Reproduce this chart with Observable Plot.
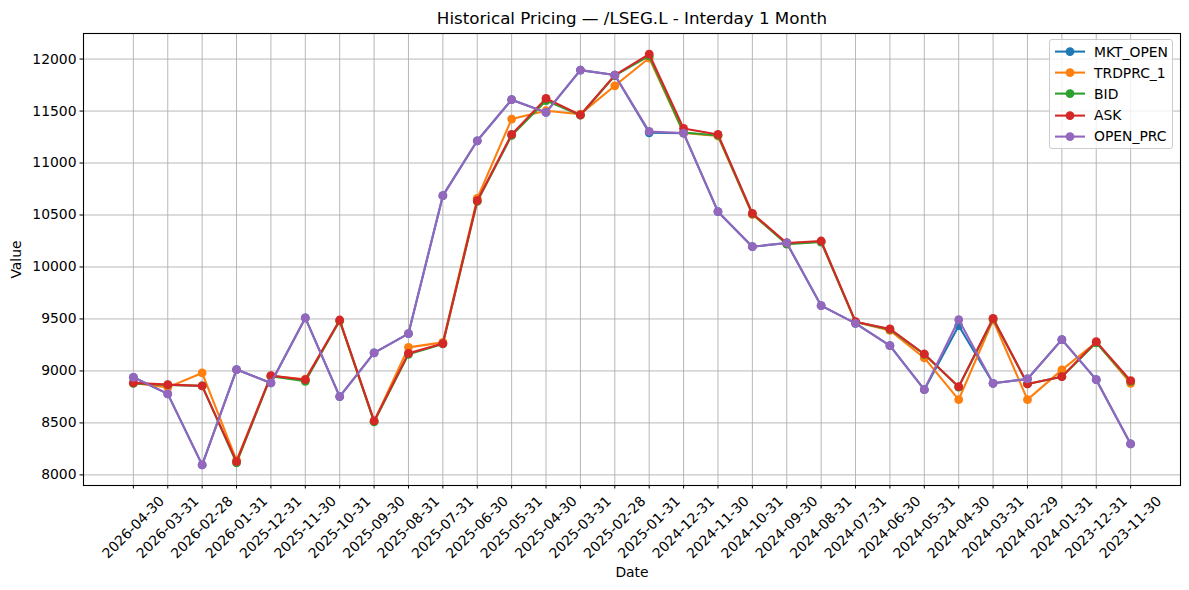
<!DOCTYPE html>
<html>
<head>
<meta charset="utf-8">
<script src="https://cdn.jsdelivr.net/npm/d3@7"></script>
<script src="https://cdn.jsdelivr.net/npm/@observablehq/plot@0.6"></script>
<style>
  html, body { margin: 0; padding: 0; background: white; }
  #wrap { position: relative; width: 1189px; height: 590px; font-family: "DejaVu Sans", sans-serif; }
  #legend { position: absolute; left: 1049px; top: 39px; width: 124px; height: 110px; box-sizing: border-box;
    border: 1px solid #cccccc; border-radius: 3px; background: rgba(255,255,255,0.8); padding-top: 1px; }
  .row { position: relative; height: 21.2px; }
  .row svg { position: absolute; left: 4px; top: 0; }
  .row span { position: absolute; left: 44px; top: 50%; transform: translateY(-50%); font-size: 13.9px; color: #000; white-space: nowrap; }
</style>
</head>
<body>
<div id="wrap"></div>
<script>
const title = "Historical Pricing — /LSEG.L - Interday 1 Month";
const xLabel = "Date";
const yLabel = "Value";

const dates = ["2026-04-30","2026-03-31","2026-02-28","2026-01-31","2025-12-31","2025-11-30","2025-10-31","2025-09-30","2025-08-31","2025-07-31","2025-06-30","2025-05-31","2025-04-30","2025-03-31","2025-02-28","2025-01-31","2024-12-31","2024-11-30","2024-10-31","2024-09-30","2024-08-31","2024-07-31","2024-06-30","2024-05-31","2024-04-30","2024-03-31","2024-02-29","2024-01-31","2023-12-31","2023-11-30"];

const seriesNames = ["MKT_OPEN", "TRDPRC_1", "BID", "ASK", "OPEN_PRC"];
const seriesColors = ["#1f77b4", "#ff7f0e", "#2ca02c", "#d62728", "#9467bd"];

const MKT_OPEN = [8939, 8779, 8096, 9013, 8885, 9510, 8753, 9173, 9359, 10686, 11214, 11609, 11487, 11894, 11846, 11291, 11288, 10532, 10195, 10231, 9628, 9458, 9243, 8820, 9435, 8881, 8923, 9301, 8916, 8298];
const TRDPRC_1 = [8885, 8842, 8981, 8140, 8950, 8920, 9480, 8515, 9227, 9275, 10660, 11423, 11503, 11470, 11743, 12010, 11290, 11260, 10505, 10225, 10245, 9470, 9390, 9125, 8724, 9490, 8724, 9010, 9275, 8881];
const BID      = [8880, 8865, 8856, 8115, 8950, 8900, 9485, 8510, 9160, 9260, 10630, 11265, 11600, 11460, 11840, 12030, 11294, 11265, 10510, 10220, 10240, 9470, 9400, 9160, 8845, 9500, 8875, 8945, 9270, 8900];
const ASK      = [8885, 8868, 8856, 8128, 8955, 8916, 9490, 8519, 9169, 9263, 10638, 11275, 11622, 11462, 11846, 12048, 11333, 11275, 10515, 10231, 10250, 9474, 9404, 9163, 8849, 9506, 8875, 8945, 9282, 8907];
const OPEN_PRC = [8939, 8779, 8096, 9013, 8885, 9510, 8753, 9173, 9359, 10686, 11214, 11609, 11487, 11894, 11846, 11304, 11288, 10532, 10195, 10231, 9628, 9458, 9243, 8820, 9493, 8881, 8923, 9301, 8916, 8298];

const yTicks = [8000, 8500, 9000, 9500, 10000, 10500, 11000, 11500, 12000];

const seriesValues = [MKT_OPEN, TRDPRC_1, BID, ASK, OPEN_PRC];

const seriesMarks = [];
seriesNames.forEach((name, si) => {
  const rows = dates.map((d, i) => ({date: d, value: seriesValues[si][i], series: name}));
  seriesMarks.push(Plot.line(rows, {x: "date", y: "value", stroke: seriesColors[si], strokeWidth: 2.1}));
  seriesMarks.push(Plot.dot(rows, {x: "date", y: "value", fill: seriesColors[si], r: 4.4, stroke: "none"}));
});

const chart = Plot.plot({
  width: 1189,
  height: 590,
  marginLeft: 83,
  marginRight: 9,
  marginTop: 33,
  marginBottom: 105,
  style: {fontFamily: "DejaVu Sans", fontSize: "13.9px", background: "white", color: "black"},
  x: {type: "point", domain: dates, padding: 1.45, round: false, label: null},
  y: {domain: [7898, 12246], label: null},
  marks: [
    Plot.gridX(dates, {stroke: "#b0b0b0", strokeOpacity: 1, strokeWidth: 0.9}),
    Plot.gridY(yTicks, {stroke: "#b0b0b0", strokeOpacity: 1, strokeWidth: 0.9}),
    ...seriesMarks,
    Plot.frame({stroke: "black", strokeWidth: 1.1}),
    Plot.axisX(dates, {tickSize: 3.5, tickFormat: () => "", label: null}),
    Plot.text(dates, {x: d => d, frameAnchor: "bottom", rotate: -45, textAnchor: "middle", lineAnchor: "middle", dy: 42, fontSize: 13.9}),
    Plot.axisY(yTicks, {tickSize: 3.5, tickPadding: 3.5, tickFormat: d => String(d), fontSize: 13.9, label: null}),
    Plot.text([title], {frameAnchor: "top", lineAnchor: "middle", dy: -15, fontSize: 16.7}),
    Plot.text([xLabel], {frameAnchor: "bottom", lineAnchor: "middle", dy: 87, fontSize: 13.9}),
    Plot.text([yLabel], {frameAnchor: "left", textAnchor: "middle", lineAnchor: "middle", dx: -67, rotate: -90, fontSize: 13.9})
  ]
});

const wrap = document.getElementById("wrap");
wrap.appendChild(chart);

const legend = document.createElement("div");
legend.id = "legend";
seriesNames.forEach((name, si) => {
  const row = document.createElement("div");
  row.className = "row";
  row.innerHTML = `<svg width="32" height="21.2"><line x1="1" x2="31" y1="10.6" y2="10.6" stroke="${seriesColors[si]}" stroke-width="2.1"/><circle cx="16" cy="10.6" r="4.4" fill="${seriesColors[si]}"/></svg><span>${name}</span>`;
  legend.appendChild(row);
});
wrap.appendChild(legend);
</script>
</body>
</html>
